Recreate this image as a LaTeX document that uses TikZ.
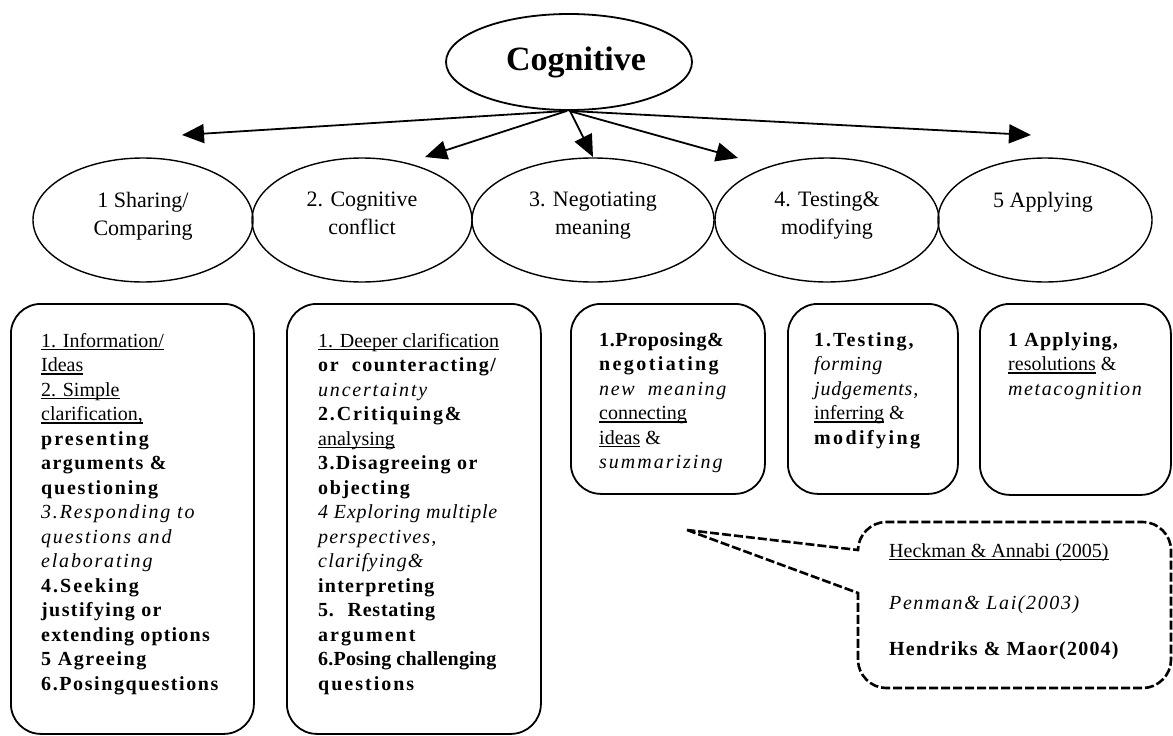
\documentclass[tikz,border=0pt]{standalone}
\usepackage{fontspec}
\setmainfont{Liberation Serif}
\usetikzlibrary{shapes.geometric,arrows.meta}
\newsavebox{\myulbox}
\newcommand\myul[1]{\sbox{\myulbox}{#1}\rlap{\rule[-3.2pt]{\wd\myulbox}{1.6pt}}\usebox{\myulbox}}
\newcommand\boldsp[2][7]{{\bfseries\addfontfeatures{LetterSpace=#1}#2}}
\newcommand\itsp[2][9]{{\itshape\addfontfeatures{LetterSpace=#1}#2}}
\tikzset{
  phase/.style={ellipse, draw, line width=1.4pt, minimum height=124pt, inner sep=0pt},
  phaselabel/.style={align=center, font=\fontsize{22}{28}\selectfont, anchor=north, inner sep=0pt},
  stagebox/.style={draw, line width=1.8pt, rounded corners=30pt, anchor=north west, inner sep=0pt},
  boxtext/.style={align=left, anchor=north west, inner sep=0pt, font=\fontsize{20}{24.5}\selectfont},
  arr/.style={line width=1.8pt, -{Triangle[length=22pt,width=19pt]}},
  callout/.style={line width=2.6pt, dash pattern=on 9pt off 3pt},
  reftext/.style={anchor=base west, inner sep=0pt, font=\fontsize{20}{24}\selectfont},
}
\begin{document}
\begin{tikzpicture}[x=1pt,y=-1pt]
\useasboundingbox (0,0) rectangle (1173,736);

% top node
\node[ellipse, draw, line width=1.8pt, minimum width=246pt, minimum height=96pt, inner sep=0pt,
      font=\fontsize{34}{40}\selectfont\bfseries] (cog) at (569,62) {\hspace*{14pt}Cognitive};

% phase ellipses
\node[phase, minimum width=220pt] (e1) at (143,220) {};
\node[phase, minimum width=220pt] (e2) at (362,220) {};
\node[phase, minimum width=242pt] (e3) at (593,220) {};
\node[phase, minimum width=224pt] (e4) at (827,220) {};
\node[phase, minimum width=214pt] (e5) at (1045,220) {};

\node[phaselabel] (l1) at ([yshift=28pt]e1.center) {1 Sharing/\\Comparing};
\node[phaselabel] (l2) at ([yshift=28pt]e2.center) {2. Cognitive\\conflict};
\node[phaselabel] (l3) at ([yshift=28pt]e3.center) {3. Negotiating\\meaning};
\node[phaselabel] (l4) at ([yshift=28pt]e4.center) {4. Testing\&\\modifying};
\node[phaselabel] (l5) at ([yshift=28pt,xshift=-2pt]e5.center) {5 Applying};

% arrows
\coordinate (t1) at (182,135);
\coordinate (t2) at (425,157);
\coordinate (t3) at (593,157);
\coordinate (t4) at (738,158);
\coordinate (t5) at (1031,135);
\draw[arr] ([xshift=-2pt]cog.south) -- (t1);
\draw[arr] ([xshift=-2pt]cog.south) -- (t2);
\draw[arr] ([xshift=1pt]cog.south) -- (t3);
\draw[arr] (cog.south) -- (t4);
\draw[arr] (cog.south) -- (t5);

% boxes
\node[stagebox, minimum width=243pt, minimum height=430pt] (b1) at (10,303) {};
\node[stagebox, minimum width=254pt, minimum height=430pt] (b2) at (286,303) {};
\node[stagebox, minimum width=194pt, minimum height=190pt] (b3) at (570,303) {};
\node[stagebox, minimum width=170pt, minimum height=190pt] (b4) at (787,303) {};
\node[stagebox, minimum width=191pt, minimum height=191pt] (b5) at (979,303) {};

\node[boxtext] (x1) at ([xshift=31pt,yshift=-30pt]b1.north west) {%
\myul{1. Information/}\\
\myul{Ideas}\\
\myul{2. Simple}\\
\myul{clarification,}\\
\boldsp[10]{presenting}\\
\boldsp{arguments \&}\\
\boldsp[9]{questioning}\\
\itsp{3.Responding to}\\
\itsp{questions and}\\
\itsp{elaborating}\\
\boldsp[10]{4.Seeking}\\
\boldsp{justifying or}\\
\boldsp[6]{extending options}\\
\boldsp[8]{5 Agreeing}\\
\boldsp[8]{6.Posingquestions}};

\node[boxtext] (x2) at ([xshift=32pt,yshift=-30pt]b2.north west) {%
\myul{1. Deeper clarification}\\
\boldsp[8]{or \ counteracting/}\\
\itsp{uncertainty}\\
\boldsp[9]{2.Critiquing\&}\\
\myul{analysing}\\
\boldsp[7]{3.Disagreeing or}\\
\boldsp[8]{objecting}\\
\itsp[4]{4 Exploring multiple}\\
\itsp[6]{perspectives,}\\
\itsp[6]{clarifying\&}\\
\boldsp[6]{interpreting}\\
\boldsp[4]{5. \ Restating}\\
\boldsp[10]{argument}\\
\boldsp[1]{6.Posing challenging}\\
\boldsp[10]{questions}};

\node[boxtext] (x3) at ([xshift=29pt,yshift=-29pt]b3.north west) {%
\boldsp[3]{1.Proposing\&}\\
\boldsp[12]{negotiating}\\
\itsp[8]{new \ meaning}\\
\myul{connecting}\\
\myul{ideas} \&\\
\itsp[10]{summarizing}};

\node[boxtext] (x4) at ([xshift=27pt,yshift=-29pt]b4.north west) {%
\boldsp[10]{1.Testing,}\\
\itsp[4]{forming}\\
\itsp[4]{judgements,}\\
\myul{inferring} \&\\
\boldsp[12]{modifying}};

\node[boxtext] (x5) at ([xshift=29pt,yshift=-29pt]b5.north west) {%
\boldsp[6]{1 Applying,}\\
\myul{resolutions} \&\\
\itsp[8]{metacognition}};

% callout
\coordinate (ctip) at (687,530);
\draw[callout] (ctip) -- (858,593) -- (858,660)
  .. controls (858,675) and (871,688) .. (886,688) -- (1143,688)
  .. controls (1158,688) and (1171,675) .. (1171,660) -- (1171,550)
  .. controls (1171,535) and (1158,522) .. (1143,522) -- (886,522)
  .. controls (871,522) and (858,535) .. (858,550) -- cycle;

\node[reftext] (r1) at (889,557) {\myul{Heckman \& Annabi (2005)}};
\node[reftext] (r2) at (889,609) {\itsp[8]{Penman\& Lai(2003)}};
\node[reftext] (r3) at (889,655) {\boldsp[6]{Hendriks \& Maor(2004)}};
\end{tikzpicture}
\end{document}
